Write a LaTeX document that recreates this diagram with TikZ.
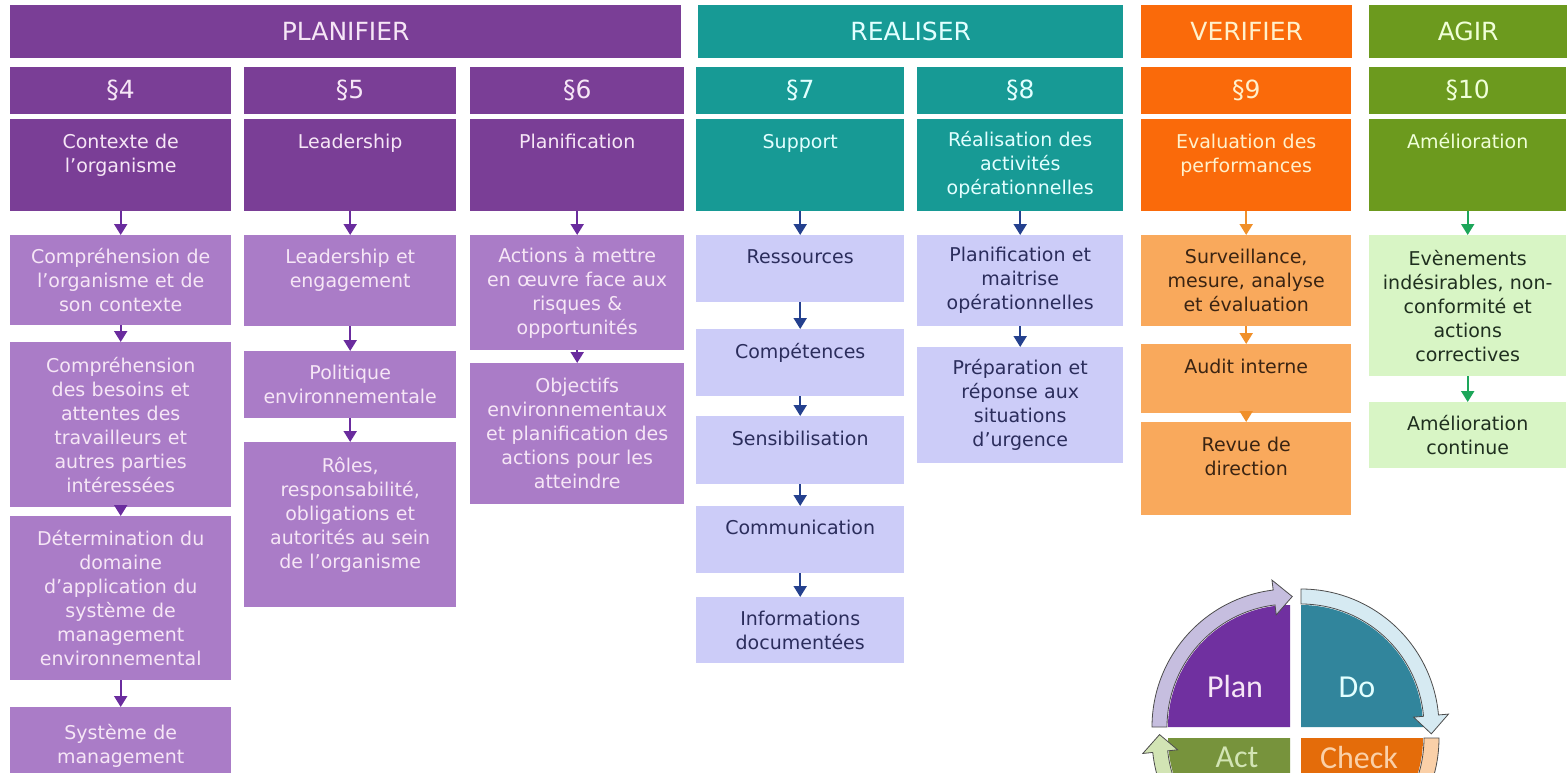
\documentclass[tikz,border=0pt]{standalone}
\usepackage{fontspec}
\setmainfont{DejaVu Sans}
\newfontfamily\pdcafont{Carlito}
\usetikzlibrary{arrows.meta}

\definecolor{pdark}{HTML}{7A3E96}
\definecolor{plight}{HTML}{AA7CC7}
\definecolor{ptxt}{HTML}{F6E6F6}
\definecolor{tdark}{HTML}{179A95}
\definecolor{tlight}{HTML}{CCCCF8}
\definecolor{ttxt}{HTML}{E2FFFF}
\definecolor{ltxt}{HTML}{2B2D5C}
\definecolor{odark}{HTML}{FA6A0A}
\definecolor{olight}{HTML}{F9A95C}
\definecolor{otxt}{HTML}{FFF1CC}
\definecolor{oltxt}{HTML}{3B2412}
\definecolor{gdark}{HTML}{6C9A1E}
\definecolor{glight}{HTML}{D8F5C5}
\definecolor{gtxt}{HTML}{F0FFD8}
\definecolor{gltxt}{HTML}{1F2F1F}
\definecolor{parrowc}{HTML}{6A2C9E}
\definecolor{narrowc}{HTML}{24408E}
\definecolor{oarrowc}{HTML}{F0902A}
\definecolor{garrowc}{HTML}{1DA65A}
\definecolor{qplan}{HTML}{7030A0}
\definecolor{qdo}{HTML}{31859C}
\definecolor{qcheck}{HTML}{E46C0A}
\definecolor{qact}{HTML}{77933C}
\definecolor{aplan}{HTML}{C6BEDF}
\definecolor{ado}{HTML}{D6EAF2}
\definecolor{acheck}{HTML}{FAD0A8}
\definecolor{aact}{HTML}{D2E4B4}
\definecolor{aline}{HTML}{4D4D4D}

\tikzset{
  cell/.style={anchor=north west, inner sep=0pt, align=center, text width=194pt,
    font=\fontsize{19}{24}\selectfont},
  barcell/.style={font=\fontsize{25}{30}\selectfont},
  Pd/.style={fill=pdark, text=ptxt},
  Pl/.style={fill=plight, text=ptxt},
  Td/.style={fill=tdark, text=ttxt},
  Tl/.style={fill=tlight, text=ltxt},
  Od/.style={fill=odark, text=otxt},
  Ol/.style={fill=olight, text=oltxt},
  Gd/.style={fill=gdark, text=gtxt},
  Gl/.style={fill=glight, text=gltxt},
  conn/.style={line width=2pt, -{Triangle[width=13pt,length=11pt]}},
  ringarrow/.style={line width=0.8pt, draw=aline},
  pdcatext/.style={font=\pdcafont\fontsize{32}{36}\selectfont}
}

\newcommand\bx[7]{%
  \pgfmathsetmacro\bxw{#4-#3}\pgfmathsetmacro\bxh{#6-#5}%
  \node[cell,#2,minimum width=\bxw pt,minimum height=\bxh pt] (#1) at (#3,#5) {#7};}

% ring arrow: center, tail angle, head base angle, tip angle, fill
\newcommand\ringarr[5]{%
  \filldraw[ringarrow, fill=#5]
    ([shift={(#1)}] #2:138pt) arc[start angle=#2, end angle=#3, radius=138pt]
    -- ([shift={(#1)}] #3:148pt) -- ([shift={(#1)}] #4:130.5pt)
    -- ([shift={(#1)}] #3:113pt) -- ([shift={(#1)}] #3:123pt)
    arc[start angle=#3, end angle=#2, radius=123pt] -- cycle;}

\begin{document}
\begin{tikzpicture}[x=1pt,y=-1pt]
\useasboundingbox (0,0) rectangle (1567,773);
\fill[white] (0,0) rectangle (1567,773);
\begin{scope}
\clip (0,0) rectangle (1567,773);

% top bars
\bx{planifier}{Pd,barcell}{10}{681}{5}{58}{PLANIFIER}
\bx{realiser}{Td,barcell}{698}{1123}{5}{58}{REALISER}
\bx{verifier}{Od,barcell}{1141}{1352}{5}{58}{VERIFIER}
\bx{agir}{Gd,barcell}{1369}{1567}{5}{58}{AGIR}

% paragraph boxes
\bx{s4}{Pd,barcell}{10}{231}{67}{114}{§4}
\bx{s5}{Pd,barcell}{244}{456}{67}{114}{§5}
\bx{s6}{Pd,barcell}{470}{684}{67}{114}{§6}
\bx{s7}{Td,barcell}{696}{904}{67}{114}{§7}
\bx{s8}{Td,barcell}{917}{1123}{67}{114}{§8}
\bx{s9}{Od,barcell}{1141}{1351}{67}{114}{§9}
\bx{s10}{Gd,barcell}{1369}{1566}{67}{114}{§10}

% main boxes
\bx{m4}{Pd}{10}{231}{119}{211}{Contexte de\\ l’organisme\\ \mbox{}}
\bx{m5}{Pd}{244}{456}{119}{211}{Leadership\\ \mbox{}\\ \mbox{}}
\bx{m6}{Pd}{470}{684}{119}{211}{Planification\\ \mbox{}\\ \mbox{}}
\bx{m7}{Td}{696}{904}{119}{211}{Support\\ \mbox{}\\ \mbox{}}
\bx{m8}{Td}{917}{1123}{119}{211}{Réalisation des\\ activités\\ opérationnelles}
\bx{m9}{Od}{1141}{1351}{119}{211}{Evaluation des\\ performances\\ \mbox{}}
\bx{m10}{Gd}{1369}{1566}{119}{211}{Amélioration\\ \mbox{}\\ \mbox{}}

% column 4
\bx{c4a}{Pl}{10}{231}{235}{325}{Compréhension de\\ l’organisme et de\\ son contexte}
\bx{c4b}{Pl}{10}{231}{342}{507}{Compréhension\\ des besoins et\\ attentes des\\ travailleurs et\\ autres parties\\ intéressées}
\bx{c4c}{Pl}{10}{231}{516}{680}{Détermination du\\ domaine\\ d’application du\\ système de\\ management\\ environnemental}
\bx{c4d}{Pl}{10}{231}{707}{785}{Système de\\ management}

% column 5
\bx{c5a}{Pl}{244}{456}{235}{326}{Leadership et\\ engagement\\ \mbox{}}
\bx{c5b}{Pl}{244}{456}{351}{418}{Politique\\ environnementale}
\bx{c5c}{Pl}{244}{456}{442}{607}{Rôles,\\ responsabilité,\\ obligations et\\ autorités au sein\\ de l’organisme\\ \mbox{}}

% column 6
\bx{c6a}{Pl}{470}{684}{235}{350}{Actions à mettre\\ en œuvre face aux\\ risques \&\\ opportunités}
\bx{c6b}{Pl}{470}{684}{363}{504}{Objectifs\\ environnementaux\\ et planification des\\ actions pour les\\ atteindre}

% column 7
\bx{c7a}{Tl}{696}{904}{235}{302}{Ressources\\ \mbox{}}
\bx{c7b}{Tl}{696}{904}{329}{396}{Compétences\\ \mbox{}}
\bx{c7c}{Tl}{696}{904}{416}{484}{Sensibilisation\\ \mbox{}}
\bx{c7d}{Tl}{696}{904}{506}{573}{Communication\\ \mbox{}}
\bx{c7e}{Tl}{696}{904}{597}{663}{Informations\\ documentées}

% column 8
\bx{c8a}{Tl}{917}{1123}{235}{326}{Planification et\\ maitrise\\ opérationnelles}
\bx{c8b}{Tl}{917}{1123}{347}{463}{Préparation et\\ réponse aux\\ situations\\ d’urgence}

% column 9
\bx{c9a}{Ol}{1141}{1351}{235}{326}{Surveillance,\\ mesure, analyse\\ et évaluation}
\bx{c9b}{Ol}{1141}{1351}{344}{413}{Audit interne\\ \mbox{}}
\bx{c9c}{Ol}{1141}{1351}{422}{515}{Revue de\\ direction\\ \mbox{}}

% column 10
\bx{c10a}{Gl}{1369}{1566}{235}{376}{Evènements\\ indésirables, non-\\ conformité et\\ actions\\ correctives}
\bx{c10b}{Gl}{1369}{1566}{402}{468}{Amélioration\\ continue}

% connectors
\draw[conn, parrowc] (m4.south) -- (c4a.north);
\draw[conn, parrowc] (c4a.south) -- (c4b.north);
\draw[conn, parrowc] (c4b.south) -- (c4c.north);
\draw[conn, parrowc] (c4c.south) -- (c4d.north);
\draw[conn, parrowc] (m5.south) -- (c5a.north);
\draw[conn, parrowc] (c5a.south) -- (c5b.north);
\draw[conn, parrowc] (c5b.south) -- (c5c.north);
\draw[conn, parrowc] (m6.south) -- (c6a.north);
\draw[conn, parrowc] (c6a.south) -- (c6b.north);
\draw[conn, narrowc] (m7.south) -- (c7a.north);
\draw[conn, narrowc] (c7a.south) -- (c7b.north);
\draw[conn, narrowc] (c7b.south) -- (c7c.north);
\draw[conn, narrowc] (c7c.south) -- (c7d.north);
\draw[conn, narrowc] (c7d.south) -- (c7e.north);
\draw[conn, narrowc] (m8.south) -- (c8a.north);
\draw[conn, narrowc] (c8a.south) -- (c8b.north);
\draw[conn, oarrowc] (m9.south) -- (c9a.north);
\draw[conn, oarrowc] (c9a.south) -- (c9b.north);
\draw[conn, oarrowc] (c9b.south) -- (c9c.north);
\draw[conn, garrowc] (m10.south) -- (c10a.north);
\draw[conn, garrowc] (c10a.south) -- (c10b.north);

% PDCA wheel
\coordinate (qp) at (1290,727);
\coordinate (qd) at (1301,727);
\coordinate (qa) at (1290,738);
\coordinate (qc) at (1301,738);
\fill[qplan] (qp) -- ++(180:122pt) arc[start angle=180, end angle=90, radius=122pt] -- cycle;
\fill[qdo] (qd) -- ++(90:122pt) arc[start angle=90, end angle=0, radius=122pt] -- cycle;
\fill[qcheck] (qc) -- ++(0:122pt) arc[start angle=0, end angle=-90, radius=122pt] -- cycle;
\fill[qact] (qa) -- ++(270:122pt) arc[start angle=270, end angle=180, radius=122pt] -- cycle;
\ringarr{qp}{180}{97}{89}{aplan}
\ringarr{qd}{90}{5}{-3}{ado}
\ringarr{qc}{0}{-82}{-90}{acheck}
\ringarr{qa}{270}{186}{178.5}{aact}
\node[pdcatext, text=ptxt] (plan) at (1235,687) {Plan};
\node[pdcatext, text=ttxt] (do) at (1357,687) {Do};
\node[pdcatext, text=aact] (act) at (1237,757) {Act};
\node[pdcatext, text=acheck] (check) at (1359,757) {Check};
\end{scope}
\end{tikzpicture}
\end{document}
